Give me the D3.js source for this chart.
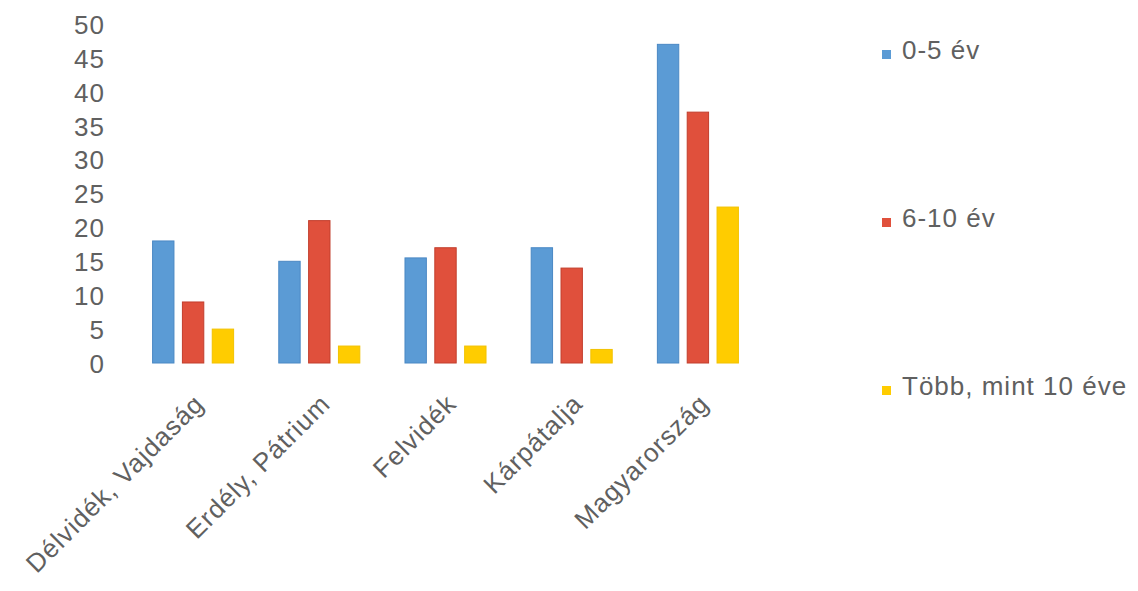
<!DOCTYPE html>
<html>
<head>
<meta charset="utf-8">
<script src="https://cdn.jsdelivr.net/npm/d3@7"></script>
<style>
  html, body { margin: 0; padding: 0; background: #fff; }
  svg { display: block; }
  text { font-family: "Liberation Sans", Arial, sans-serif; fill: #606060; font-size: 26px; letter-spacing: 1px; }
</style>
</head>
<body>
<svg id="chart" width="1138" height="591"></svg>
<script>
const categories = ["Délvidék, Vajdaság", "Erdély, Pátrium", "Felvidék", "Kárpátalja", "Magyarország"];
const seriesNames = ["0-5 év", "6-10 év", "Több, mint 10 éve"];
const series0to5 = [18, 15, 15.5, 17, 47];
const series6to10 = [9, 21, 17, 14, 37];
const seriesOver10 = [5, 2.5, 2.5, 2, 23];
const yTicks = [0, 5, 10, 15, 20, 25, 30, 35, 40, 45, 50];
const colors = ["#5b9bd5", "#e0503c", "#ffcc00"];
const strokes = ["#4a88c4", "#c23e2c", "#f2c200"];

const seriesValues = [series0to5, series6to10, seriesOver10];
const svg = d3.select("#chart");

const x = d3.scaleBand().domain(categories).range([130, 761]).paddingInner(0.35).paddingOuter(0.175);
const xi = d3.scaleBand().domain(d3.range(seriesNames.length)).range([0, x.bandwidth()]).paddingInner(0.25);
const y = d3.scaleLinear().domain([0, 50]).range([363, 24]);

// y axis labels
const yAxis = d3.axisLeft(y).tickValues(yTicks).tickSize(0).tickPadding(0);
const gy = svg.append("g").attr("transform", "translate(105,0)").call(yAxis);
gy.select(".domain").remove();
gy.selectAll("text").attr("font-size", null).attr("font-family", null).attr("fill", null).attr("dy", "0.36em");

// bars
const groups = svg.append("g").selectAll("g").data(categories).join("g")
  .attr("transform", d => `translate(${x(d)},0)`);
groups.selectAll("rect")
  .data((d, i) => seriesValues.map((s, k) => ({ k, v: s[i] })))
  .join("rect")
  .attr("x", d => xi(d.k) + 0.5)
  .attr("width", xi.bandwidth() - 1)
  .attr("y", d => y(d.v))
  .attr("height", d => y(0) - y(d.v))
  .attr("fill", d => colors[d.k])
  .attr("stroke", d => strokes[d.k])
  .attr("stroke-width", 1);

// x axis labels
const gx = svg.append("g");
gx.selectAll("text").data(categories).join("text")
  .attr("transform", d => `translate(${x(d) + x.bandwidth() / 2 + 6},${399}) rotate(-45)`)
  .attr("text-anchor", "end")
  .attr("dy", "0.35em")
  .text(d => d);

// legend
const ly = d3.scalePoint().domain(d3.range(seriesNames.length)).range([59, 395]);
const leg = svg.append("g").selectAll("g").data(seriesNames).join("g")
  .attr("transform", (d, i) => `translate(882,${ly(i)})`);
leg.append("rect").attr("x", 0).attr("y", -9).attr("width", 9).attr("height", 9)
  .attr("fill", (d, i) => colors[i]);
leg.append("text").attr("x", 20).attr("y", 0).text(d => d);
</script>
</body>
</html>
